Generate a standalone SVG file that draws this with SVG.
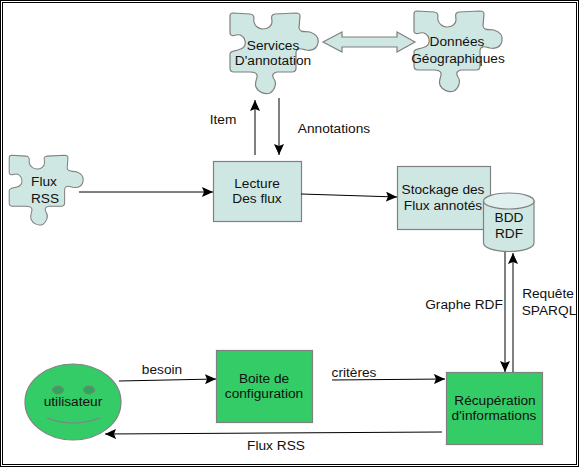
<svg xmlns="http://www.w3.org/2000/svg" width="579" height="467" viewBox="0 0 579 467">
<style>
text{font-family:"Liberation Sans",Arial,sans-serif;font-size:13.7px;fill:#111;text-anchor:middle}
.frame{fill:none;stroke:#000}
.pale{fill:#cfe7e3;stroke:#808080;stroke-width:1.2}
.green{fill:#33cc66;stroke:#808080;stroke-width:1.2}
.piece{fill:#cfe7e3;stroke:#808080;stroke-width:1.2;vector-effect:non-scaling-stroke}
.link{fill:none;stroke:#000;stroke-width:1;marker-end:url(#tip)}
</style>
<defs>
<marker id="tip" markerUnits="userSpaceOnUse" markerWidth="12" markerHeight="10" refX="11" refY="5" orient="auto"><path d="M0,0L11,5L0,10L2,5Z" fill="#000"/></marker>
<path id="puzzle" d="M230,16Q230,13 233,13L250,14C256,15 253,19 254,22C255,27 260,29 263,29C268,29 272,26 272,22C272,18 270,15 275,14L296,13Q300,13 300,16L299,28C300,33 305,31 310,32C316,34 319,38 318,43C317,49 312,51 306,50C302,49 297,47 296,52L296,68Q296,72 292,72L277,72C272,73 272,76 274,79C277,83 275,90 270,93C265,95 258,92 256,87C254,82 258,78 257,75C256,72 252,72 250,72L234,72Q230,72 230,68L230,54C230,51 235,51 238,50C244,49 246,45 245,41C244,36 240,34 236,35C233,36 230,36 230,33Z"/>
</defs>
<rect width="579" height="467" fill="#fff"/>
<rect class="frame" x="0.5" y="0.5" width="578" height="466"/>
<rect class="frame" x="2.5" y="2.5" width="574" height="462"/>
<g id="services"><use href="#puzzle" class="piece"/><text x="273" y="50">Services</text><text x="273" y="65">D'annotation</text></g>
<g id="donnees"><use href="#puzzle" class="piece" transform="translate(184,-2)"/><text x="457" y="46">Données</text><text x="458" y="63">Géographiques</text></g>
<g id="flux-rss"><use href="#puzzle" class="piece" transform="translate(-184,144) scale(.84,.865)"/><text x="44" y="186">Flux</text><text x="45" y="203">RSS</text></g>
<g id="lecture"><rect class="pale" x="213.500" y="161.500" width="88" height="60"/><text x="257" y="188">Lecture</text><text x="257" y="203">Des flux</text></g>
<g id="stockage"><rect class="pale" x="397.500" y="166.500" width="93" height="63"/><text x="443" y="194">Stockage des</text><text x="443" y="210">Flux annotés</text></g>
<g id="bdd"><path class="pale" d="M483.500,201V243C483.500,248 495,251.500 509,251.500C523,251.500 534,248 534,243V201Z"/><ellipse cx="508.800" cy="201" rx="25.300" ry="8" fill="#e0f0ee" stroke="#808080" stroke-width="1.2"/><text x="509" y="222">BDD</text><text x="509" y="238">RDF</text></g>
<g id="utilisateur"><ellipse class="green" cx="73" cy="402" rx="48" ry="38"/><ellipse cx="58" cy="390" rx="5.500" ry="4" fill="#2fa55a" stroke="#808080"/><ellipse cx="89" cy="390" rx="5.500" ry="4" fill="#2fa55a" stroke="#808080"/><path d="M47,418Q73,428 100,418" fill="none" stroke="#808080" stroke-width="1.2"/><text x="73" y="406">utilisateur</text></g>
<g id="boite"><rect class="green" x="216.500" y="350.500" width="96" height="72"/><text x="264" y="383">Boite de</text><text x="264" y="398">configuration</text></g>
<g id="recuperation"><rect class="green" x="446.500" y="372.500" width="96" height="72"/><text x="495" y="405">Récupération</text><text x="494" y="420">d'informations</text></g>
<g id="connectors">
<path d="M323,42L342,32V37H397V32L415,42L397,52V47H342V52Z" fill="#cfe7e3" stroke="#808080" stroke-width="1.2"/>
<path class="link" d="M79,192H213"/>
<path class="link" d="M301,194L397,197"/>
<path class="link" d="M255,155V100"/>
<path class="link" d="M279,98V155"/>
<path class="link" d="M505,252V372"/>
<path class="link" d="M513,372V253"/>
<path class="link" d="M119,381L216,379"/>
<path class="link" d="M332,380L445,379"/>
<path class="link" d="M442,432L105,434"/>
</g>
<g id="labels">
<text x="223" y="124">Item</text>
<text x="334" y="133">Annotations</text>
<text x="464" y="309">Graphe RDF</text>
<text x="548" y="298">Requête</text>
<text x="549" y="315">SPARQL</text>
<text x="162" y="374">besoin</text>
<text x="354" y="377">critères</text>
<text x="276" y="450">Flux RSS</text>
</g>
</svg>
